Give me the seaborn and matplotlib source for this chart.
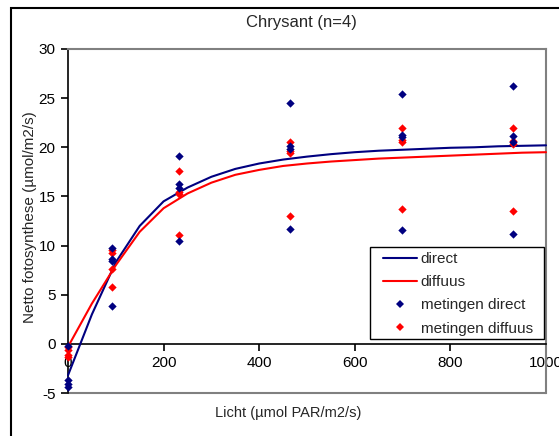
import numpy as np
import pandas as pd
import matplotlib
matplotlib.use("Agg")
import matplotlib.pyplot as plt
import seaborn as sns
from matplotlib.lines import Line2D
from matplotlib.patches import Rectangle

sns.set_style("white")
plt.rcParams['font.family'] = ['Liberation Sans', 'DejaVu Sans']
plt.rcParams['axes.unicode_minus'] = False

# Model curves (vertices every 50 units)
curve_x = [0, 50, 100, 150, 200, 250, 300, 350, 400, 450, 500, 550, 600,
           650, 700, 750, 800, 850, 900, 950, 1000]
curve_direct = [-3.2, 3.0, 8.3, 12.0, 14.5, 15.9, 17.0, 17.8, 18.35, 18.75,
                19.05, 19.3, 19.5, 19.65, 19.75, 19.85, 19.95, 20.0, 20.1,
                20.15, 20.2]
curve_diffuus = [-0.3, 4.1, 8.0, 11.4, 13.8, 15.3, 16.4, 17.2, 17.7, 18.1,
                 18.35, 18.55, 18.7, 18.85, 18.95, 19.05, 19.15, 19.25,
                 19.35, 19.45, 19.5]

# Measurements (4 per light level)
meas_light = [0, 93, 233, 465, 698, 930]
meas_direct = [
    [-0.2, -3.7, -4.1, -4.4],
    [9.8, 8.6, 8.4, 3.9],
    [19.1, 16.3, 15.9, 10.5],
    [24.5, 20.1, 19.8, 11.7],
    [25.4, 21.3, 21.0, 11.6],
    [26.2, 21.1, 20.5, 11.2],
]
meas_diffuus = [
    [-0.3, -0.6, -1.1, -1.3],
    [9.5, 9.2, 7.6, 5.8],
    [17.6, 15.5, 15.2, 11.1],
    [20.5, 19.6, 19.4, 13.0],
    [22.0, 20.7, 20.5, 13.7],
    [22.0, 20.6, 20.3, 13.5],
]

curves = pd.DataFrame({
    "x": curve_x * 2,
    "y": curve_direct + curve_diffuus,
    "serie": ["direct"] * len(curve_x) + ["diffuus"] * len(curve_x),
})
rows = []
for lx, vd, vf in zip(meas_light, meas_direct, meas_diffuus):
    for v in vd:
        rows.append((lx, v, "metingen direct"))
    for v in vf:
        rows.append((lx, v, "metingen diffuus"))
meas = pd.DataFrame(rows, columns=["x", "y", "serie"])

navy = "#000080"
red = "#FF0000"
palette_lines = {"direct": navy, "diffuus": red}

fig = plt.figure(figsize=(5.59, 4.36), dpi=100)
W, H = 559, 436
L, R, T, B = 68, 546, 49, 393
ax = fig.add_axes([L / W, (H - B) / H, (R - L) / W, (B - T) / H])

sns.lineplot(data=curves, x="x", y="y", hue="serie", palette=palette_lines,
             hue_order=["direct", "diffuus"], linewidth=1.5, legend=False,
             ax=ax, zorder=3, clip_on=False)
sns.scatterplot(data=meas[meas.serie == "metingen diffuus"], x="x", y="y",
                color=red, marker="D", s=18, linewidth=0, legend=False,
                ax=ax, zorder=4, clip_on=False)
sns.scatterplot(data=meas[meas.serie == "metingen direct"], x="x", y="y",
                color=navy, marker="D", s=18, linewidth=0, legend=False,
                ax=ax, zorder=5, clip_on=False)

ax.set_xlim(0, 1000)
ax.set_ylim(-5, 30)
ax.set_xticks([0, 200, 400, 600, 800, 1000])
ax.set_yticks(np.arange(-5, 31, 5))

gray = "#808080"
ax.spines["bottom"].set_position(("data", 0))
ax.spines["bottom"].set_color("black")
ax.spines["bottom"].set_linewidth(1.2)
ax.spines["left"].set_color("black")
ax.spines["left"].set_linewidth(1.2)
for s in ["top", "right"]:
    ax.spines[s].set_color(gray)
    ax.spines[s].set_linewidth(1.5)
ax.axhline(-5, color=gray, linewidth=1.5, clip_on=False, zorder=2)

ax.tick_params(axis="both", direction="out", length=5, width=1.2,
               color="black", labelsize=11, labelcolor="black")
ax.tick_params(axis="x", pad=3.5)
ax.tick_params(axis="y", pad=4)
ax.xaxis.set_ticks_position("bottom")
ax.yaxis.set_ticks_position("left")

ax.set_xlabel("")
ax.set_ylabel("")
fig.text(288 / W, 1 - 413 / H, "Licht (µmol PAR/m2/s)", ha="center",
         va="center", fontsize=10.5)
fig.text(30 / W, 1 - 217 / H, "Netto fotosynthese (µmol/m2/s)", ha="center",
         va="center", rotation=90, fontsize=11)
fig.text(301 / W, 1 - 22 / H, "Chrysant (n=4)", ha="center", va="center",
         fontsize=12)

# legend box
def ax_x(px):
    return (px - L) / (R - L)

def ax_y(py):
    return (B - py) / (B - T)

ax.add_patch(Rectangle((ax_x(370), ax_y(339)), ax_x(544) - ax_x(370),
                       ax_y(247) - ax_y(339), transform=ax.transAxes,
                       facecolor="white", edgecolor="black", linewidth=1.0,
                       zorder=9, clip_on=False))

handles = [
    Line2D([0], [0], color=navy, lw=1.5),
    Line2D([0], [0], color=red, lw=1.5),
    Line2D([0], [0], color=navy, marker="D", ms=4.5, lw=0, mew=0),
    Line2D([0], [0], color=red, marker="D", ms=4.5, lw=0, mew=0),
]
labels = ["direct", "diffuus", "metingen direct", "metingen diffuus"]
leg = ax.legend(handles, labels, loc="upper left",
                bbox_to_anchor=(ax_x(383), ax_y(252)),
                frameon=False, fontsize=11, borderpad=0, labelspacing=0.6,
                handlelength=2.2, handletextpad=0.26, borderaxespad=0)
leg.set_zorder(10)

# outer chart-area border
fig.patches.append(Rectangle((11 / W, -0.1), 1.2, 1 - 8 / H + 0.1,
                             transform=fig.transFigure, fill=False,
                             edgecolor="black", linewidth=1.5, zorder=0))

fig.savefig("out.png", dpi=100)
